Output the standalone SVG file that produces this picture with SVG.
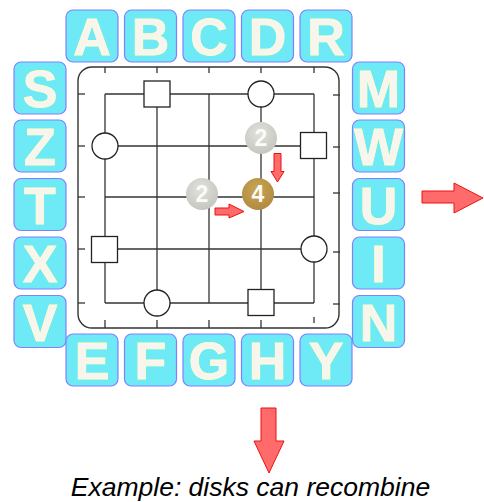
<svg xmlns="http://www.w3.org/2000/svg" width="484" height="502" viewBox="0 0 484 502">
<defs>
<style>
.tile rect{fill:#6ee9f6;stroke:#8080ff;stroke-width:1.2}
.tile text{font-family:"Liberation Sans",Arial,sans-serif;font-weight:bold;font-size:52px;fill:#f8f5f0;stroke:#ffffc8;stroke-width:0.8;text-anchor:middle}
.grid line{stroke:#333;stroke-width:1.3}
.tick line{stroke:#333;stroke-width:1.3}
.node rect,.node circle{fill:#fff;stroke:#222;stroke-width:1.3}
.disk text{font-family:"Liberation Sans",Arial,sans-serif;font-weight:bold;font-size:23px;fill:#fbfbf8;text-anchor:middle}
.arrow{fill:#ff6b6b;stroke:#ee1111;stroke-width:1}
.caption{font-family:"Liberation Sans",Arial,sans-serif;font-style:italic;font-size:26.5px;fill:#000;text-anchor:middle}
</style>
<radialGradient id="gray" cx="0.45" cy="0.35" r="0.7">
<stop offset="0" stop-color="#e2e2dc"/>
<stop offset="1" stop-color="#c4c4be"/>
</radialGradient>
<radialGradient id="gold" cx="0.45" cy="0.35" r="0.7">
<stop offset="0" stop-color="#c9a552"/>
<stop offset="1" stop-color="#b08840"/>
</radialGradient>
</defs>

<!-- tiles top -->
<g id="tile-A" class="tile"><rect x="66" y="10" width="52" height="52" rx="7"/><text x="92" y="55">A</text></g>
<g id="tile-B" class="tile"><rect x="124.5" y="10" width="52" height="52" rx="7"/><text x="150.5" y="55">B</text></g>
<g id="tile-C" class="tile"><rect x="183" y="10" width="52" height="52" rx="7"/><text x="209" y="55">C</text></g>
<g id="tile-D" class="tile"><rect x="241.5" y="10" width="52" height="52" rx="7"/><text x="267.5" y="55">D</text></g>
<g id="tile-R" class="tile"><rect x="300" y="10" width="52" height="52" rx="7"/><text x="326" y="55">R</text></g>
<!-- tiles left -->
<g id="tile-S" class="tile"><rect x="14" y="62" width="52" height="52" rx="7"/><text x="40" y="107">S</text></g>
<g id="tile-Z" class="tile"><rect x="14" y="120" width="52" height="52" rx="7"/><text x="40" y="165">Z</text></g>
<g id="tile-T" class="tile"><rect x="14" y="178.5" width="52" height="52" rx="7"/><text x="40" y="223.5">T</text></g>
<g id="tile-X" class="tile"><rect x="14" y="237" width="52" height="52" rx="7"/><text x="40" y="282">X</text></g>
<g id="tile-V" class="tile"><rect x="14" y="295.5" width="52" height="52" rx="7"/><text x="40" y="340.5">V</text></g>
<!-- tiles right -->
<g id="tile-M" class="tile"><rect x="352.5" y="62" width="52" height="52" rx="7"/><text x="378.5" y="107">M</text></g>
<g id="tile-W" class="tile"><rect x="352.5" y="120" width="52" height="52" rx="7"/><text x="378.5" y="165">W</text></g>
<g id="tile-U" class="tile"><rect x="352.5" y="178.5" width="52" height="52" rx="7"/><text x="378.5" y="223.5">U</text></g>
<g id="tile-I" class="tile"><rect x="352.5" y="237" width="52" height="52" rx="7"/><text x="378.5" y="282">I</text></g>
<g id="tile-N" class="tile"><rect x="352.5" y="295.5" width="52" height="52" rx="7"/><text x="378.5" y="340.5">N</text></g>
<!-- tiles bottom -->
<g id="tile-E" class="tile"><rect x="66" y="334" width="52" height="52" rx="7"/><text x="92" y="379">E</text></g>
<g id="tile-F" class="tile"><rect x="124.5" y="334" width="52" height="52" rx="7"/><text x="150.5" y="379">F</text></g>
<g id="tile-G" class="tile"><rect x="183" y="334" width="52" height="52" rx="7"/><text x="209" y="379">G</text></g>
<g id="tile-H" class="tile"><rect x="241.5" y="334" width="52" height="52" rx="7"/><text x="267.5" y="379">H</text></g>
<g id="tile-Y" class="tile"><rect x="300" y="334" width="52" height="52" rx="7"/><text x="326" y="379">Y</text></g>

<!-- board -->
<g id="board">
<rect x="78" y="67" width="261" height="261" rx="14" fill="#fff" stroke="#333" stroke-width="1.4"/>
<g class="tick">
<line x1="105" y1="67" x2="105" y2="73"/><line x1="157" y1="67" x2="157" y2="73"/><line x1="209" y1="67" x2="209" y2="73"/><line x1="261" y1="67" x2="261" y2="73"/><line x1="314" y1="67" x2="314" y2="73"/>
<line x1="105" y1="328" x2="105" y2="320"/><line x1="157" y1="328" x2="157" y2="320"/><line x1="209" y1="328" x2="209" y2="320"/><line x1="261" y1="328" x2="261" y2="320"/><line x1="314" y1="317" x2="314" y2="323"/>
<line x1="78" y1="94" x2="85" y2="94"/><line x1="78" y1="146" x2="85" y2="146"/><line x1="78" y1="197" x2="85" y2="197"/><line x1="78" y1="249" x2="85" y2="249"/><line x1="78" y1="303" x2="85" y2="303"/>
<line x1="333" y1="95" x2="340" y2="95"/><line x1="333" y1="147" x2="340" y2="147"/><line x1="333" y1="193" x2="340" y2="193"/><line x1="333" y1="252" x2="340" y2="252"/><line x1="333" y1="304" x2="340" y2="304"/>
</g>
</g>

<g id="connectors" class="grid">
<line x1="105" y1="94" x2="314" y2="94"/>
<line x1="105" y1="146" x2="314" y2="146"/>
<line x1="105" y1="197" x2="314" y2="197"/>
<line x1="105" y1="249" x2="314" y2="249"/>
<line x1="105" y1="303" x2="314" y2="303"/>
<line x1="105" y1="94" x2="105" y2="303"/>
<line x1="157" y1="94" x2="157" y2="303"/>
<line x1="209" y1="94" x2="209" y2="303"/>
<line x1="261" y1="94" x2="261" y2="303"/>
<line x1="314" y1="94" x2="314" y2="303"/>
</g>

<!-- nodes -->
<g id="sq1" class="node"><rect x="144" y="81" width="26" height="26"/></g>
<g id="c1" class="node"><circle cx="261" cy="94" r="13"/></g>
<g id="c2" class="node"><circle cx="105" cy="146" r="13"/></g>
<g id="sq2" class="node"><rect x="300.5" y="132.5" width="26" height="26"/></g>
<g id="sq3" class="node"><rect x="91.5" y="236.5" width="26" height="26"/></g>
<g id="c3" class="node"><circle cx="314" cy="249" r="13"/></g>
<g id="c4" class="node"><circle cx="157" cy="303" r="13"/></g>
<g id="sq4" class="node"><rect x="248" y="289.5" width="26" height="26"/></g>

<!-- disks -->
<g id="disk-2a" class="disk"><circle cx="261" cy="138" r="16" fill="url(#gray)"/><text x="261" y="146">2</text></g>
<g id="disk-2b" class="disk"><circle cx="202" cy="194" r="16" fill="url(#gray)"/><text x="202" y="202">2</text></g>
<g id="disk-4" class="disk"><circle cx="258" cy="194" r="16" fill="url(#gold)"/><text x="258" y="202">4</text></g>

<!-- small arrows -->
<g id="arrow-small-down"><path class="arrow" d="M274 153.5 H281 V171.5 H284 L277.5 182 L271 171.5 H274 Z"/></g>
<g id="arrow-small-right"><path class="arrow" d="M215 208 H229 V204 L244 211.5 L229 218 V215 H215 Z"/></g>

<!-- big arrows -->
<g id="arrow-big-right"><path class="arrow" d="M422 191 H454 V183 L483 198 L454 213 V203 H422 Z"/></g>
<g id="arrow-big-down"><path class="arrow" d="M261 408 H276 V441 H284 L269 473 L254 441 H261 Z"/></g>

<text class="caption" x="250.5" y="495.5">Example: disks can recombine</text>
</svg>
